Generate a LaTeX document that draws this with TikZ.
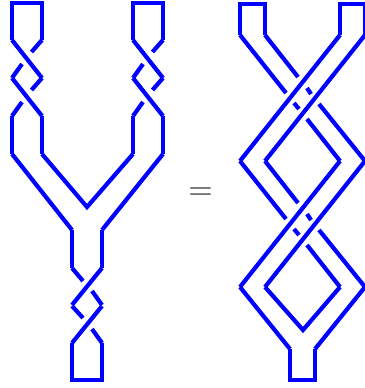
\documentclass[tikz,border=0pt]{standalone}
\usepackage{amsmath}
\usetikzlibrary{positioning}

\begin{document}
\begin{tikzpicture}[
    x=1pt, y=-1pt,
    strand/.style={draw=blue, line width=4.2pt, line join=miter},
    post/.style={draw=blue, line width=4.5pt},
    equals/.style={text=black!65, inner sep=0pt, font=\fontsize{28}{28}\selectfont\bfseries}
]
\useasboundingbox (0,0) rectangle (364,388);
% left: top pair of twists
\draw[post] (12,40) -- (12,3) -- (42,3) -- (42,40);
\draw[strand] (12,40) -- (42,78);
\draw[strand] (42,40) -- (31.5,52);
\draw[strand] (22,64) -- (12,78);
\draw[strand] (12,78) -- (42,116);
\draw[strand] (42,78) -- (31.5,90);
\draw[strand] (22,102) -- (12,116);
\draw[post] (133,40) -- (133,3) -- (163,3) -- (163,40);
\draw[strand] (133,40) -- (163,78);
\draw[strand] (163,40) -- (152.5,52);
\draw[strand] (143,64) -- (133,78);
\draw[strand] (133,78) -- (163,116);
\draw[strand] (163,78) -- (152.5,90);
\draw[strand] (143,102) -- (133,116);
% left: the Y
\draw[post] (12,116) -- (12,154);
\draw[post] (42,116) -- (42,154);
\draw[post] (133,116) -- (133,154);
\draw[post] (163,116) -- (163,154);
\draw[strand] (12,154) -- (72,230);
\draw[strand] (42,154) -- (87,207) -- (133,154);
\draw[strand] (163,154) -- (102,230);
\draw[post] (72,230) -- (72,268);
\draw[post] (102,230) -- (102,268);
% left: lower twists
\draw[strand] (102,268) -- (72,305);
\draw[strand] (72,268) -- (83,281);
\draw[strand] (92,291) -- (102,305);
\draw[strand] (102,306) -- (72,343);
\draw[strand] (72,306) -- (83,318);
\draw[strand] (92,329) -- (102,343);
\draw[post] (72,343) -- (72,380) -- (102,380) -- (102,343);
% equals sign
\node[equals] (eq) at (200.5,193) {=};
% right: top
\draw[post] (240,35) -- (240,4) -- (265,4) -- (265,35);
\draw[post] (340,35) -- (340,4) -- (365,4) -- (365,35);
\draw[strand] (340,35) -- (240,161);
\draw[strand] (365,35) -- (265,161);
\draw[strand] (240,35) -- (286,93);
\draw[strand] (294,103) -- (299,109);
\draw[strand] (307,119) -- (340,161);
\draw[strand] (265,35) -- (298,77);
\draw[strand] (307,88) -- (311,94);
\draw[strand] (319,104) -- (365,161);
% right: middle
\draw[strand] (340,161) -- (240,287);
\draw[strand] (365,161) -- (265,287);
\draw[strand] (240,161) -- (286,219);
\draw[strand] (294,229) -- (299,235);
\draw[strand] (307,245) -- (340,287);
\draw[strand] (265,161) -- (298,203);
\draw[strand] (307,214) -- (311,220);
\draw[strand] (319,230) -- (365,287);
% right: bottom
\draw[strand] (240,287) -- (290,349);
\draw[strand] (265,287) -- (303,330) -- (340,287);
\draw[strand] (365,287) -- (315,349);
\draw[post] (290,349) -- (290,380) -- (315,380) -- (315,349);
\end{tikzpicture}
\end{document}
